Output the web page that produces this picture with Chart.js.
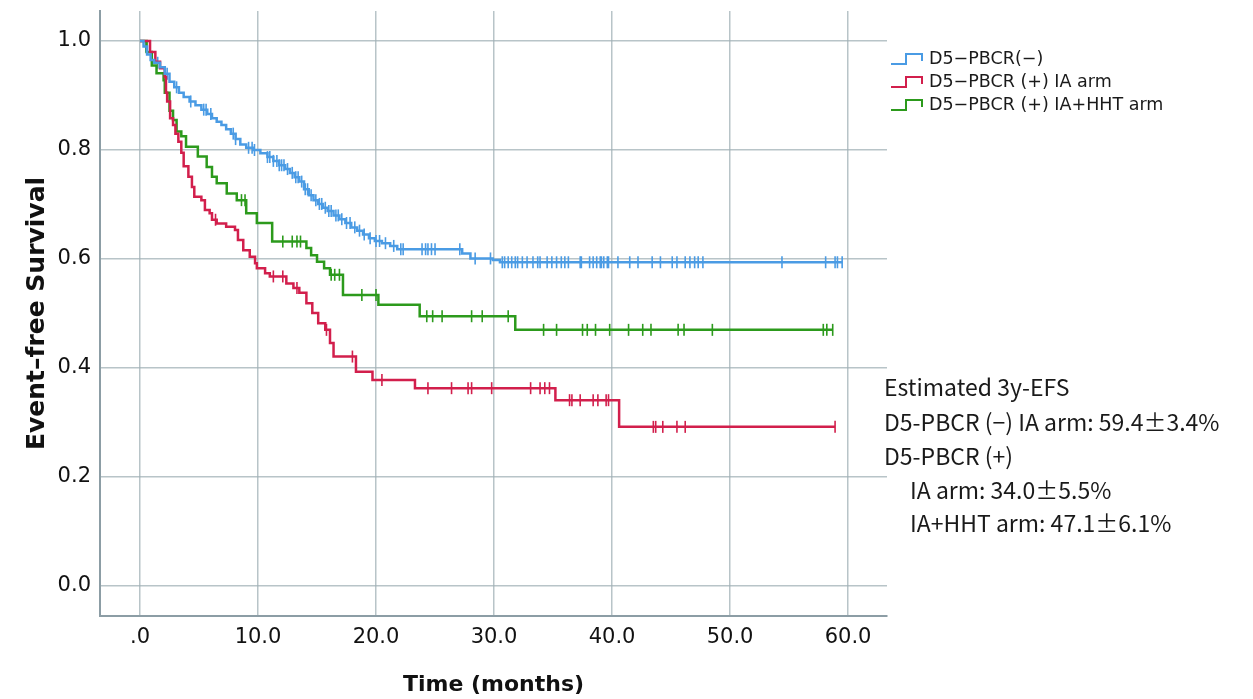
<!DOCTYPE html>
<html>
<head>
<meta charset="utf-8">
<script src="https://cdn.jsdelivr.net/npm/chart.js@4.4.1/dist/chart.umd.min.js"></script>
<style>
  html, body { margin: 0; padding: 0; background: #fff; }
  #wrap { width: 1253px; height: 699px; }
</style>
</head>
<body>
<div id="wrap"><canvas id="km"></canvas></div>
<script>
// tick labels
const xTicks = [0, 10, 20, 30, 40, 50, 60];
const xTickLabels = ['.0', '10.0', '20.0', '30.0', '40.0', '50.0', '60.0'];
const yTicks = [0, 0.2, 0.4, 0.6, 0.8, 1.0];
const yTickLabels = ['0.0', '0.2', '0.4', '0.6', '0.8', '1.0'];

const legendNames = ['D5\u2212PBCR(\u2212)', 'D5\u2212PBCR (+) IA arm', 'D5\u2212PBCR (+) IA+HHT arm'];
const seriesColors = ['#4a9be4', '#d21f4c', '#2c9a1c'];

// D5-PBCR(-)  (step times / survival after the step)
const blueTime = [0, 0.3, 0.6, 0.9, 1.2, 1.7, 2.1, 2.5, 2.9, 3.3, 3.7, 4.2, 4.7, 5.2, 5.7, 6.1, 6.5, 6.9, 7.3, 7.7, 8.1, 8.5, 9.0, 9.6,
  10.2, 10.8, 11.3, 11.8, 12.3, 12.7, 13.1, 13.5, 13.9, 14.3, 14.7, 15.1, 15.5, 15.9, 16.4, 16.9, 17.4, 17.9, 18.4, 18.9, 19.4, 19.9,
  20.5, 21.2, 21.8, 27.3, 28.0, 29.9, 30.5, 59.5];
const blueSurv = [1, 0.99, 0.975, 0.965, 0.96, 0.952, 0.94, 0.925, 0.915, 0.905, 0.897, 0.889, 0.882, 0.874, 0.866, 0.858, 0.852, 0.846, 0.838, 0.83, 0.82, 0.81, 0.804, 0.8,
  0.794, 0.787, 0.78, 0.772, 0.765, 0.758, 0.75, 0.742, 0.728, 0.717, 0.708, 0.701, 0.694, 0.688, 0.68, 0.673, 0.666, 0.658, 0.652, 0.645, 0.638, 0.633,
  0.629, 0.624, 0.618, 0.61, 0.601, 0.598, 0.594, 0.594];
const blueCensor = [0.5, 1.0, 1.5, 2.3, 3.1, 4.3, 5.4, 5.6, 6.0, 7.9, 8.1, 9.2, 9.5, 9.7, 10.8, 11.0, 11.3, 11.6, 11.8, 12.0, 12.2, 12.5, 12.9,
  13.2, 13.4, 13.7, 14.0, 14.2, 14.5, 14.9, 15.2, 15.4, 15.7, 16.0, 16.2, 16.6, 16.8, 17.1, 17.5, 17.8, 18.2, 18.6, 19.0, 19.5, 20.0, 20.3,
  20.8, 21.5, 22.1, 22.3, 23.9, 24.2, 24.4, 24.7, 25.0, 27.1, 28.4, 29.7, 30.7, 30.9, 31.2, 31.5, 31.8, 32.0, 32.4, 32.8, 33.3, 33.7, 33.9,
  34.5, 34.9, 35.3, 35.7, 36.0, 36.3, 37.3, 37.4, 38.1, 38.4, 38.7, 39.0, 39.1, 39.3, 39.6, 39.7, 40.5, 41.5, 42.2, 43.4, 44.1, 45.1, 45.5,
  46.2, 46.6, 47.0, 47.3, 47.7, 54.4, 58.1, 58.9, 59.1, 59.5];

// D5-PBCR(+) IA arm
const redTime = [0, 0.85, 1.3, 1.7, 2.1, 2.2, 2.3, 2.55, 2.8, 3.0, 3.25, 3.5, 3.7, 4.1, 4.4, 4.6, 5.2, 5.5, 5.9, 6.1, 6.5, 7.3, 8.05, 8.3,
  8.75, 9.3, 9.75, 9.9, 10.6, 11.0, 12.4, 13.0, 13.5, 14.1, 14.6, 15.1, 15.7, 16.1, 16.4, 18.3, 19.7, 23.3, 35.2, 40.6, 58.9];
const redSurv = [1, 0.98, 0.962, 0.95, 0.934, 0.905, 0.889, 0.858, 0.846, 0.83, 0.815, 0.795, 0.77, 0.751, 0.732, 0.714, 0.708, 0.69, 0.684,
  0.672, 0.665, 0.659, 0.653, 0.635, 0.616, 0.604, 0.592, 0.583, 0.574, 0.568, 0.555, 0.547, 0.538, 0.519, 0.501, 0.482, 0.47, 0.446, 0.421,
  0.393, 0.378, 0.363, 0.341, 0.292, 0.292];
const redCensor = [6.4, 11.3, 12.1, 13.3, 15.8, 18.0, 20.5, 24.4, 26.4, 27.8, 28.1, 29.8, 33.1, 33.9, 34.3, 34.7, 36.4, 36.6, 37.3, 38.4,
  38.8, 39.5, 39.7, 43.5, 43.7, 44.3, 45.5, 46.2, 58.9];

// D5-PBCR(+) IA+HHT arm
const greenTime = [0, 0.56, 1.0, 1.4, 2.0, 2.1, 2.5, 2.8, 3.1, 3.5, 3.9, 4.9, 5.65, 6.1, 6.5, 7.35, 8.2, 9.0, 9.9, 11.2, 14.1, 14.5,
  15.0, 15.6, 16.1, 17.2, 20.2, 23.7, 31.8, 58.7];
const greenSurv = [1, 0.98, 0.955, 0.941, 0.928, 0.905, 0.872, 0.855, 0.834, 0.825, 0.806, 0.788, 0.769, 0.751, 0.739, 0.72, 0.708, 0.684,
  0.666, 0.632, 0.62, 0.607, 0.595, 0.583, 0.571, 0.534, 0.516, 0.495, 0.47, 0.47];
const greenCensor = [8.6, 8.9, 12.1, 12.9, 13.3, 13.6, 16.2, 16.5, 16.9, 18.8, 20.0, 24.3, 24.8, 25.6, 28.1, 29.0, 31.2, 34.2, 35.3, 37.5,
  37.9, 38.6, 39.8, 41.4, 42.6, 43.3, 45.6, 46.1, 48.5, 57.9, 58.2, 58.7];

const annotLines = ['Estimated 3y-EFS', 'D5-PBCR (\u2212) IA arm: 59.4\u00b13.4%', 'D5-PBCR (+)', 'IA arm: 34.0\u00b15.5%', 'IA+HHT arm: 47.1\u00b16.1%'];

function survAt(times, surv, t) {
  let s = surv[0];
  for (let i = 0; i < times.length; i++) {
    if (times[i] <= t) s = surv[i];
  }
  return s;
}

function curve(label, times, surv, color) {
  return {
    label: label,
    data: times.map((t, i) => ({ x: t, y: surv[i] })),
    showLine: true,
    borderColor: color,
    borderWidth: 2.5,
    stepped: 'before',
    pointRadius: 0,
    fill: false
  };
}

function censorMarks(times, surv, cens, color) {
  return {
    label: '',
    data: cens.map(t => ({ x: t, y: survAt(times, surv, t) })),
    showLine: false,
    pointStyle: 'line',
    rotation: 90,
    pointRadius: 6,
    borderColor: color,
    borderWidth: 1.6
  };
}

const sideText = {
  id: 'sideText',
  afterDraw(chart) {
    const ctx = chart.ctx;
    ctx.save();
    ctx.font = '17.5px "DejaVu Sans"';
    ctx.textBaseline = 'middle';
    ctx.textAlign = 'left';
    legendNames.forEach((name, i) => {
      const y = 59 + i * 23;
      ctx.strokeStyle = seriesColors[i];
      ctx.lineWidth = 2;
      ctx.beginPath();
      ctx.moveTo(891, y + 5);
      ctx.lineTo(906, y + 5);
      ctx.lineTo(906, y - 5);
      ctx.lineTo(922, y - 5);
      ctx.lineTo(922, y + 2);
      ctx.stroke();
      ctx.fillStyle = '#1a1a1a';
      ctx.fillText(name, 929, y);
    });
    ctx.font = '23px "Noto Sans CJK SC"';
    ctx.fillStyle = '#1a1a1a';
    const ys = [387, 422, 456, 490, 523];
    annotLines.forEach((txt, i) => {
      ctx.fillText(txt, i >= 3 ? 910 : 884, ys[i]);
    });
    ctx.restore();
  }
};

const gridColor = 'rgba(160,176,182,0.75)';
const axisColor = '#8c9da5';

new Chart(document.getElementById('km').getContext('2d'), {
  type: 'scatter',
  data: {
    datasets: [
      curve(legendNames[0], blueTime, blueSurv, seriesColors[0]),
      curve(legendNames[1], redTime, redSurv, seriesColors[1]),
      curve(legendNames[2], greenTime, greenSurv, seriesColors[2]),
      censorMarks(blueTime, blueSurv, blueCensor, seriesColors[0]),
      censorMarks(redTime, redSurv, redCensor, seriesColors[1]),
      censorMarks(greenTime, greenSurv, greenCensor, seriesColors[2])
    ]
  },
  options: {
    responsive: true,
    maintainAspectRatio: false,
    animation: false,
    layout: { padding: { left: 0, right: 366, top: 0, bottom: 0 } },
    plugins: {
      legend: { display: false },
      tooltip: { enabled: false }
    },
    scales: {
      x: {
        type: 'linear',
        min: -3.39,
        max: 63.3,
        afterBuildTicks: s => { s.ticks = xTicks.map(v => ({ value: v })); },
        afterFit: s => { s.height = 83; },
        ticks: {
          padding: 9,
          color: '#111',
          font: { family: 'DejaVu Sans', size: 21 },
          callback: (v) => xTickLabels[xTicks.indexOf(v)]
        },
        grid: { color: gridColor, lineWidth: 1.5, drawTicks: false },
        border: { display: true, color: axisColor, width: 2 },
        title: {
          display: true,
          text: 'Time (months)',
          color: '#111',
          font: { family: 'DejaVu Sans', size: 22, weight: 'bold' },
          padding: { top: 0, bottom: 1 }
        }
      },
      y: {
        type: 'linear',
        min: -0.055,
        max: 1.055,
        afterBuildTicks: s => { s.ticks = yTicks.map(v => ({ value: v })); },
        afterFit: s => { s.width = 100; s.paddingTop = 11; s.paddingBottom = 0; },
        ticks: {
          padding: 9,
          color: '#111',
          font: { family: 'DejaVu Sans', size: 21 },
          callback: (v) => yTickLabels[yTicks.indexOf(v)]
        },
        grid: { color: gridColor, lineWidth: 1.5, drawTicks: false },
        border: { display: true, color: axisColor, width: 2 },
        title: {
          display: true,
          text: 'Event\u2013free Survival',
          color: '#111',
          font: { family: 'DejaVu Sans', size: 25, weight: 'bold' },
          padding: { top: 22, bottom: 0 }
        }
      }
    }
  },
  plugins: [sideText]
});
</script>
</body>
</html>
